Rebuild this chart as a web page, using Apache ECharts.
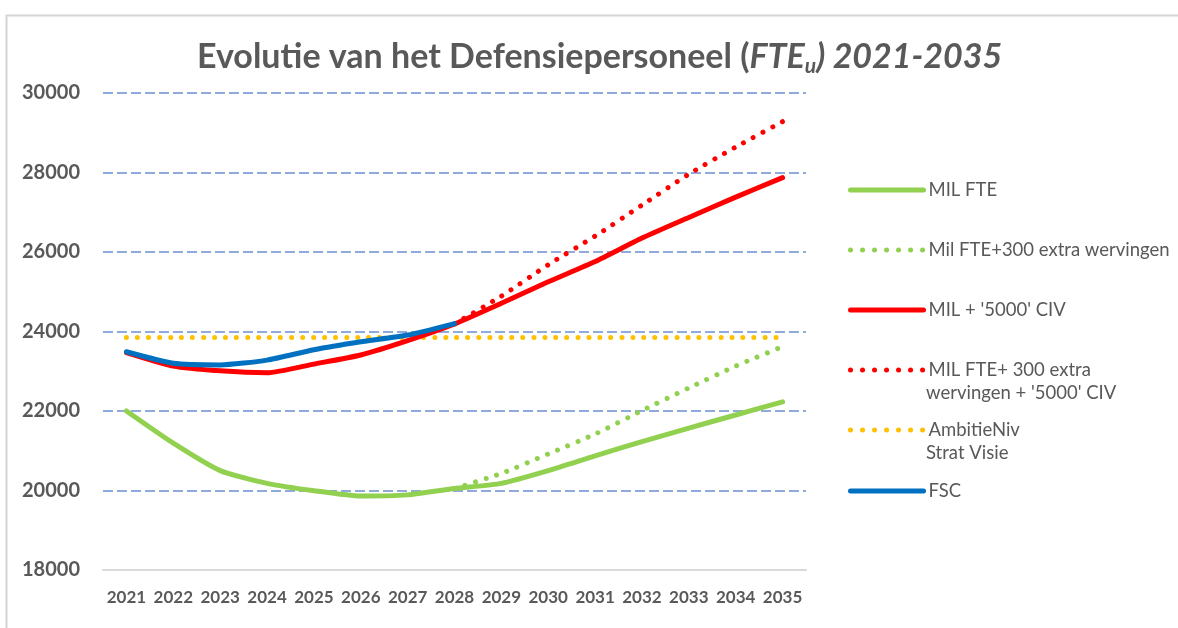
<!DOCTYPE html>
<html>
<head>
<meta charset="utf-8">
<script src="https://cdn.jsdelivr.net/npm/echarts@6/dist/echarts.min.js"></script>
<style>
html,body{margin:0;padding:0;background:#fff;}
#chart{width:1178px;height:628px;}
</style>
</head>
<body>
<div id="chart"></div>
<script>
var years = ['2021','2022','2023','2024','2025','2026','2027','2028','2029','2030','2031','2032','2033','2034','2035'];
var yTicks = { min: 18000, max: 30000, step: 2000 };
var milFte = [22000, 21190, 20500, 20180, 19995, 19860, 19890, 20050, 20180, 20500, 20870, 21230, 21570, 21900, 22230];
var milFte300 = [null, null, null, null, null, null, null, 20050, 20430, 20920, 21420, 22010, 22580, 23130, 23620];
var milCiv = [23470, 23130, 23010, 22960, 23180, 23410, 23770, 24190, 24710, 25250, 25760, 26350, 26870, 27380, 27870];
var milFte300Civ = [null, null, null, null, null, null, null, 24190, 24890, 25680, 26400, 27180, 27960, 28640, 29280];
var ambitie = [23850, 23850, 23850, 23850, 23850, 23850, 23850, 23850, 23850, 23850, 23850, 23850, 23850, 23850, 23850];
var fsc = [23490, 23200, 23160, 23280, 23540, 23740, 23910, 24200, null, null, null, null, null, null, null];

var names = {
  milFte: 'MIL FTE',
  milFte300: 'Mil FTE+300 extra wervingen',
  milCiv: "MIL + '5000' CIV",
  milFte300Civ: "MIL FTE+ 300 extra wervingen + '5000' CIV",
  ambitie: 'AmbitieNiv Strat Visie',
  fsc: 'FSC'
};
var C = { green: '#92D050', red: '#FF0000', yellow: '#FFC000', blue: '#0070C0', text: '#595959', grid: '#8FAADC' };
var FONT = 'Lato';
var DOT = [0.01, 11];
var LEG_FS = 18.5;

function solid(name, data, color) {
  return { name: name, type: 'line', data: data, symbol: 'none', smooth: 0.2, connectNulls: false,
    lineStyle: { color: color, width: 5, cap: 'round', join: 'round' }, itemStyle: { color: color },
    emphasis: { disabled: true }, silent: true };
}
function dotted(name, data, color) {
  return { name: name, type: 'line', data: data, symbol: 'none', smooth: 0.2,
    lineStyle: { color: color, width: 5, type: DOT, cap: 'round' }, itemStyle: { color: color },
    emphasis: { disabled: true }, silent: true };
}
function legendItem(name, center, isDotted, label) {
  return {
    data: [name], orient: 'vertical', left: 848, top: center - 11, padding: 0,
    itemWidth: 73, itemHeight: 14, selectedMode: false,
    itemStyle: { color: 'rgba(0,0,0,0)', borderWidth: 0, opacity: 0 },
    lineStyle: isDotted ? { width: 5, type: [0.01, 12], cap: 'round' } : { width: 5, cap: 'round' },
    formatter: function () { return label; },
    textStyle: { fontFamily: FONT, fontSize: LEG_FS, color: C.text, lineHeight: 22 }
  };
}

var chart = echarts.init(document.getElementById('chart'), null, { renderer: 'canvas' });
chart.setOption({
  animation: false,
  backgroundColor: '#fff',
  title: {
    left: 197, top: 35, padding: 0,
    text: '{n|Evolutie van het Defensiepersoneel (}{i|FTE}{s|u}{i|) 2021-2035}',
    textStyle: {
      rich: {
        n: { fontFamily: FONT, fontSize: 34, fontWeight: 'bold', color: C.text, lineHeight: 44 },
        i: { fontFamily: FONT, fontSize: 34, fontWeight: 'bold', fontStyle: 'italic', color: C.text, lineHeight: 44 },
        s: { fontFamily: FONT, fontSize: 21, fontWeight: 'bold', fontStyle: 'italic', color: C.text, lineHeight: 44, padding: [18, 0, 0, 0] }
      }
    }
  },
  grid: { left: 103, right: 372, top: 93, bottom: 58, containLabel: false },
  xAxis: {
    type: 'category', data: years, boundaryGap: true,
    axisLine: { show: true, lineStyle: { color: '#D9D9D9', width: 2 } },
    axisTick: { show: false },
    axisLabel: { fontFamily: FONT, fontSize: 17, fontWeight: 'bold', color: C.text, margin: 19, interval: 0 }
  },
  yAxis: {
    type: 'value', min: yTicks.min, max: yTicks.max, interval: yTicks.step,
    axisLine: { show: false }, axisTick: { show: false },
    axisLabel: { fontFamily: FONT, fontSize: 20, fontWeight: 'bold', color: C.text, margin: 23,
      formatter: function (v) { return String(v); } },
    splitLine: { show: true, lineStyle: { color: C.grid, width: 2, type: [10, 4] } }
  },
  legend: [
    legendItem(names.milFte, 190, false, 'MIL FTE'),
    legendItem(names.milFte300, 250, true, 'Mil FTE+300 extra wervingen'),
    legendItem(names.milCiv, 310, false, "MIL + '5000' CIV"),
    legendItem(names.milFte300Civ, 370, true, 'MIL FTE+ 300 extra'),
    legendItem(names.ambitie, 430, true, 'AmbitieNiv'),
    legendItem(names.fsc, 491, false, 'FSC')
  ],
  graphic: [
    { type: 'rect', left: 4, top: 13, shape: { width: 1300, height: 700 }, style: { fill: 'none', stroke: '#D4D4D4', lineWidth: 2 }, silent: true, z: -1 },
    { type: 'text', left: 926, top: 384, style: { text: "wervingen + '5000' CIV", font: LEG_FS + 'px Lato', fill: C.text } },
    { type: 'text', left: 926, top: 444, style: { text: 'Strat Visie', font: LEG_FS + 'px Lato', fill: C.text } }
  ],
  series: [
    dotted(names.ambitie, ambitie, C.yellow),
    dotted(names.milFte300, milFte300, C.green),
    solid(names.milFte, milFte, C.green),
    dotted(names.milFte300Civ, milFte300Civ, C.red),
    solid(names.milCiv, milCiv, C.red),
    solid(names.fsc, fsc, C.blue)
  ]
});
</script>
</body>
</html>
